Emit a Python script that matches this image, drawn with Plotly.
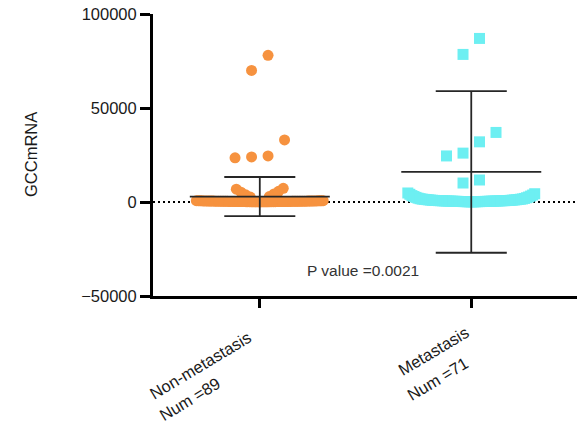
import plotly.graph_objects as go

# ---------------- data ----------------
groups = ["Non-metastasis", "Metastasis"]
counts = [89, 71]

nonmet_values = [
    78000, 70000, 33000, 24500, 24000, 23500,
    7300, 6800, 5700, 5200, 4300, 3800, 2900, 2600,
    420, 130, 610, 250, 80, 370, 540, 190, 300, 460,
    150, 720, 280, 60, 390, 510, 220, 340, 640, 110,
    470, 260, 180, 580, 320, 90, 430, 200, 690, 350,
    140, 500, 240, 410, 560, 170, 290, 620, 70, 380,
    450, 210, 530, 310, 120, 660, 270, 400, 160, 590,
    330, 480, 230, 100, 550, 360, 440, 190, 700, 300,
    140, 520, 260, 380, 600, 210, 490, 330, 80, 420,
    250, 570, 160, 460, 350,
]

met_values = [
    87000, 78500, 37000, 32000, 26000, 24500, 11700, 10100,
    4800, 4400, 4100, 3700, 3400,
    3150, 2900, 2650, 2450, 2250, 2050, 1900, 1750,
    1620, 1540, 1480, 1400, 1330, 1280, 1200, 1150, 1090, 1030, 980, 930, 880, 840,
    810, 780, 760, 730, 700, 690, 660, 640, 610, 590, 570, 540, 520, 500, 480, 460,
    450, 420, 400, 380, 360, 350, 320, 300, 290, 260, 240, 220, 210, 190, 170, 150,
    140, 120, 110, 90,
]

means = [2900, 16000]      # mean line
sds = [10400, 43000]       # error bar half-length
p_value = "0.0021"

y_ticks = [-50000, 0, 50000, 100000]

# ---------------- swarm layout (computed) ----------------
def swarm_offsets(values, cut, band_half=0.30, mid_start=0.045, mid_step=0.022,
                  row_step=0.078, row_gap=9000, upper_cut=9000):
    off = [0.0] * len(values)
    idx = list(range(len(values)))
    band = sorted([i for i in idx if values[i] < cut], key=lambda i: values[i])
    n = len(band)
    step = 2 * band_half / max(n - 1, 1)
    for k, i in enumerate(band):
        m = (k + 1) // 2
        sign = 1 if k % 2 == 1 else -1
        off[i] = sign * m * step
    mid = sorted([i for i in idx if cut <= values[i] < upper_cut], key=lambda i: values[i])
    for k, i in enumerate(mid):
        m = k // 2
        sign = -1 if k % 2 == 0 else 1
        off[i] = sign * (mid_start + m * mid_step)
    upper = sorted([i for i in idx if values[i] >= upper_cut], key=lambda i: -values[i])
    rows = []
    for i in upper:
        if rows and values[rows[-1][-1]] - values[i] <= row_gap:
            rows[-1].append(i)
        else:
            rows.append([i])
    for row in rows:
        row = sorted(row, key=lambda i: values[i])
        for j, i in enumerate(row):
            off[i] = (j - (len(row) - 1) / 2) * row_step
    return off

off0 = swarm_offsets(nonmet_values, cut=2000)
off1 = swarm_offsets(met_values, cut=6000)

FONT = "Liberation Sans, Arial, Helvetica, sans-serif"
ORANGE = "#F6923F"
CYAN = "#6DEFF2"

fig = go.Figure()
fig.add_trace(go.Scatter(
    x=[0 + o for o in off0], y=nonmet_values, mode="markers",
    marker=dict(symbol="circle", size=11, color=ORANGE, line=dict(width=0)),
    showlegend=False, hoverinfo="y"))
fig.add_trace(go.Scatter(
    x=[1 + o for o in off1], y=met_values, mode="markers",
    marker=dict(symbol="square", size=11, color=CYAN, line=dict(width=0)),
    showlegend=False, hoverinfo="y"))

# mean +/- SD lines
xs, ys = [], []
MW, CW = 0.331, 0.168
for i, (m, s) in enumerate(zip(means, sds)):
    xs += [i - MW, i + MW, None, i - CW, i + CW, None, i - CW, i + CW, None, i, i, None]
    ys += [m, m, None, m + s, m + s, None, m - s, m - s, None, m - s, m + s, None]
fig.add_trace(go.Scatter(x=xs, y=ys, mode="lines",
                         line=dict(color="#262626", width=1.8),
                         showlegend=False, hoverinfo="skip"))

# dotted zero line
fig.add_shape(type="line", xref="paper", x0=0, x1=1, yref="y", y0=0, y1=0,
              line=dict(color="black", width=2, dash="2px,3px"), layer="below")

annotations = []
# category labels (two rotated lines each)
label_shifts = [
    [(-59, -69), (-70, -103)],
    [(-38, -55), (-34, -83)],
]
for i, (g, c) in enumerate(zip(groups, counts)):
    for text, (dx, dy) in zip([g, f"Num ={c}"], label_shifts[i]):
        annotations.append(dict(
            x=i, xref="x", y=0, yref="paper", xshift=dx, yshift=dy,
            text=text, textangle=-31, showarrow=False,
            xanchor="center", yanchor="middle",
            font=dict(family=FONT, size=16.5, color="#1a1a1a")))
# y title
annotations.append(dict(
    x=-0.2877, xref="paper", y=0.5, yref="paper", text="GCCmRNA",
    textangle=-90, showarrow=False, xanchor="center", yanchor="middle",
    font=dict(family=FONT, size=16.5, color="#1a1a1a")))
# p value
annotations.append(dict(
    x=0.495, xref="paper", y=0.092, yref="paper", text=f"P value ={p_value}",
    showarrow=False, xanchor="center", yanchor="middle",
    font=dict(family=FONT, size=15.5, color="#333333")))

fig.update_layout(
    width=578, height=426,
    margin=dict(l=153, r=1, t=14, b=130, pad=0),
    paper_bgcolor="white", plot_bgcolor="white",
    font=dict(family=FONT, color="#1a1a1a"),
    annotations=annotations,
    xaxis=dict(range=[-0.505, 1.5], tickvals=[0, 1], showticklabels=False,
               ticks="outside", ticklen=9, tickwidth=3, tickcolor="black",
               showline=True, linewidth=3, linecolor="black",
               showgrid=False, zeroline=False, fixedrange=True),
    yaxis=dict(range=[-50000, 100000], tickvals=y_ticks, tickformat="d",
               ticks="outside", ticklen=10, tickwidth=3, tickcolor="black",
               showline=True, linewidth=3, linecolor="black",
               tickfont=dict(family=FONT, size=16.5, color="#1a1a1a"),
               showgrid=False, zeroline=False, fixedrange=True),
)

fig.write_html("out.html")
